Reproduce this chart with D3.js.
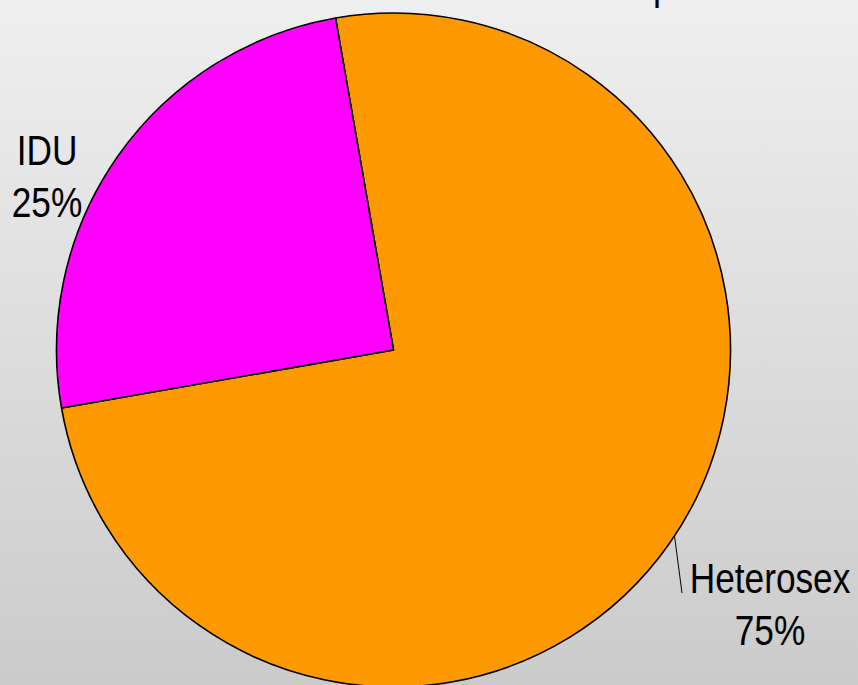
<!DOCTYPE html>
<html><head><meta charset="utf-8">
<script src="https://cdn.jsdelivr.net/npm/d3@7"></script>
<style>html,body{margin:0;padding:0;overflow:hidden;background:#ddd}</style>
</head><body>
<script>
const categories = ["Heterosex", "IDU"];
const values = [75, 25];
const labels = ["75%", "25%"];
const colors = ["#FF9900", "#FF00FF"];

const W = 858, H = 685;
const svg = d3.select("body").append("svg").attr("width", W).attr("height", H);
const defs = svg.append("defs");
const grad = defs.append("linearGradient").attr("id", "bg").attr("x1", 0).attr("y1", 0).attr("x2", 0).attr("y2", 1);
grad.append("stop").attr("offset", "0%").attr("stop-color", "#efefef");
grad.append("stop").attr("offset", "100%").attr("stop-color", "#cbcbcb");
svg.append("rect").attr("width", W).attr("height", H).attr("fill", "url(#bg)");

// cut-off title descender at the top
svg.append("text").attr("x", 653).attr("y", 0).attr("font-family", "Liberation Sans, Arial, sans-serif")
  .attr("font-size", 36).attr("fill", "#000").text("p");

const cx = 393.5, cy = 350, r = 337;
const start = -9.9 * Math.PI / 180;
const pie = d3.pie().sort(null).startAngle(start).endAngle(start + 2 * Math.PI);
const arcs = pie(values);
const arc = d3.arc().innerRadius(0).outerRadius(r);
const g = svg.append("g").attr("transform", `translate(${cx},${cy})`);
g.selectAll("path").data(arcs).join("path")
  .attr("d", arc).attr("fill", (d, i) => colors[i])
  .attr("stroke", "#000").attr("stroke-width", 1.6).attr("stroke-linejoin", "round");

// labels
const labelPos = [
  {x: 770, y: 593, leader: true},
  {x: 47, y: 165, leader: false}
];
const font = "Liberation Sans Narrow, Arial Narrow, Liberation Sans, Arial, sans-serif";
arcs.forEach((d, i) => {
  const p = labelPos[i];
  const t = svg.append("g").attr("transform", `translate(${p.x},${p.y}) scale(0.82,1)`);
  t.append("text").attr("text-anchor", "middle").attr("font-family", "Liberation Sans, Arial, sans-serif")
    .attr("font-size", 43).attr("fill", "#000").text(categories[i]);
  t.append("text").attr("text-anchor", "middle").attr("y", 52).attr("font-family", "Liberation Sans, Arial, sans-serif")
    .attr("font-size", 43).attr("fill", "#000").text(labels[i]);
  if (p.leader) {
    const a = (d.startAngle + d.endAngle) / 2;
    const ang = 123.5 * Math.PI / 180; // point on rim where leader starts
    const sx = cx + r * Math.sin(ang), sy = cy - r * Math.cos(ang);
    svg.append("line").attr("x1", sx).attr("y1", sy).attr("x2", 682).attr("y2", 593)
      .attr("stroke", "#000").attr("stroke-width", 1);
  }
});
</script>
</body></html>
